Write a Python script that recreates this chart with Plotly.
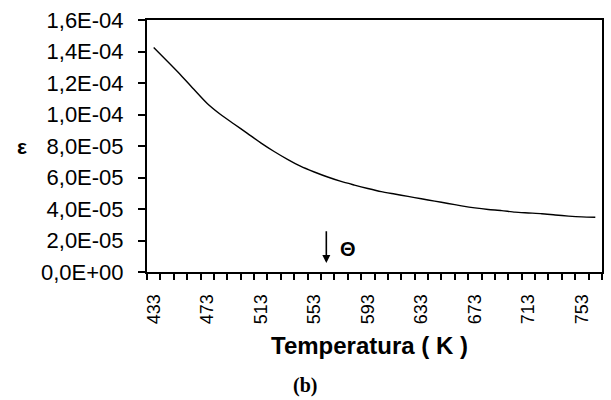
import plotly.graph_objects as go

temperatures = [433 + 10 * i for i in range(34)]
epsilon_e5 = [14.25, 13.4, 12.53, 11.6, 10.7, 10.0, 9.4, 8.8, 8.2, 7.65,
              7.15, 6.7, 6.35, 6.03, 5.75, 5.52, 5.3, 5.1, 4.95, 4.8,
              4.65, 4.5, 4.35, 4.2, 4.07, 3.97, 3.9, 3.8, 3.75, 3.7,
              3.62, 3.55, 3.5, 3.48]
epsilon = [v * 1e-5 for v in epsilon_e5]

y_tickvals = [i * 2e-5 for i in range(9)]
y_ticktext = ["0,0E+00", "2,0E-05", "4,0E-05", "6,0E-05", "8,0E-05",
              "1,0E-04", "1,2E-04", "1,4E-04", "1,6E-04"]
x_label_idx = list(range(0, 34, 4))
x_label_text = [str(temperatures[i]) for i in x_label_idx]

idx = list(range(len(temperatures)))

fig = go.Figure()
fig.add_trace(go.Scatter(x=idx, y=epsilon, mode="lines",
                         line=dict(color="black", width=1.4, shape="spline", smoothing=0.6),
                         hoverinfo="skip", showlegend=False))

font = "Liberation Sans, Arial, sans-serif"
fig.update_layout(
    width=611, height=400,
    margin=dict(l=147, r=7, t=20, b=128),
    paper_bgcolor="white", plot_bgcolor="white",
    xaxis=dict(range=[-0.5, 33.5], showgrid=False, zeroline=False,
               showline=True, linecolor="black", linewidth=2, mirror=True,
               tickvals=x_label_idx, ticktext=x_label_text, ticks="",
               tickangle=-90, ticklabelstandoff=13,
               tickfont=dict(family=font, size=18, color="black"),
               minor=dict(tick0=-0.5, dtick=1, ticks="outside", ticklen=6,
                          tickcolor="black", tickwidth=1.5)),
    yaxis=dict(range=[0, 1.6e-4], showgrid=False, zeroline=False,
               showline=True, linecolor="black", linewidth=2, mirror=True,
               tickvals=y_tickvals, ticktext=y_ticktext, ticks="outside",
               ticklen=7, tickwidth=1.5, tickcolor="black", ticklabelstandoff=10,
               tickfont=dict(family=font, size=22, color="black")),
)

fig.add_annotation(xref="paper", yref="paper", x=-0.274, y=0.5,
                   xanchor="center", yanchor="middle",
                   text="<b>ε</b>", showarrow=False,
                   font=dict(family=font, size=21, color="black"))
fig.add_annotation(xref="paper", yref="paper", x=0.49, y=-0.29,
                   xanchor="center", yanchor="middle",
                   text="<b>Temperatura ( K )</b>", showarrow=False,
                   font=dict(family=font, size=24, color="black"))
fig.add_annotation(xref="paper", yref="paper", x=0.348, y=-0.452,
                   xanchor="center", yanchor="middle",
                   text="<b>(b)</b>", showarrow=False,
                   font=dict(family="Liberation Serif, Times New Roman, serif", size=20, color="black"))
fig.add_annotation(x=12.9, y=0.57e-5, ax=12.9, ay=2.68e-5, xref="x", yref="y",
                   axref="x", ayref="y", text="", showarrow=True,
                   arrowhead=2, arrowsize=1, arrowwidth=1.6, arrowcolor="black")
fig.add_annotation(x=14.5, y=1.47e-5, xref="x", yref="y", text="<b>Θ</b>",
                   xanchor="center", yanchor="middle",
                   showarrow=False, font=dict(family=font, size=20, color="black"))

fig.write_html("out.html")
